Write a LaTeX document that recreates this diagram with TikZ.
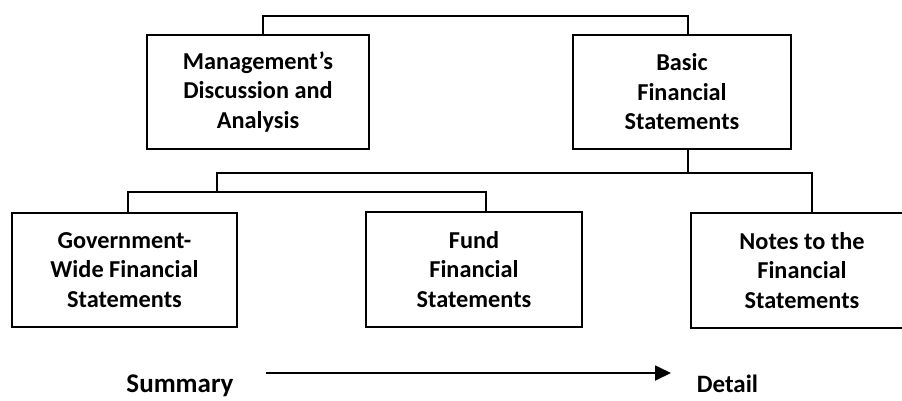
\documentclass[tikz,border=0pt]{standalone}
\usepackage{fontspec}
\setmainfont{Carlito}
\usetikzlibrary{arrows.meta}
\begin{document}
\begin{tikzpicture}[x=1pt,y=-1pt,
  box/.style={draw=black,line width=1.8pt,fill=white,inner sep=0pt,align=center,
    font=\fontsize{24.3}{29.5}\selectfont\bfseries},
  conn/.style={draw=black,line width=1.8pt},
  lbl/.style={anchor=base,inner sep=0pt}]
\useasboundingbox[fill=white] (0,0) rectangle (902,400);
\begin{scope}
\clip (0,0) rectangle (902,400);
% top row
\node[box,minimum width=222pt,minimum height=114pt] (mda) at (258,92) {Management’s\\Discussion and\\Analysis};
\node[box,minimum width=218pt,minimum height=114pt] (basic) at (682,92) {Basic\\Financial\\Statements};
% bottom row
\node[box,minimum width=225pt,minimum height=114pt] (gov) at (124.5,270) {Government-\\Wide Financial\\Statements};
\node[box,minimum width=216pt,minimum height=115pt] (fund) at (474,269.5) {Fund\\Financial\\Statements};
\node[box,minimum width=222pt,minimum height=115pt] (notes) at (802,270.5) {Notes to the\\Financial\\Statements};
% junction coordinates
\coordinate (t1) at (263,16);
\coordinate (t2) at (688,16);
\coordinate (b1) at (688,173);
\coordinate (b2) at (217,173);
\coordinate (b3) at (812,173);
\coordinate (c1) at (217,192);
\coordinate (c2) at (128,192);
\coordinate (c3) at (486,192);
% connectors
\draw[conn] (mda.north -| t1) -- (t1) -- (t2) -- (basic.north -| t2);
\draw[conn] (basic.south -| b1) -- (b1);
\draw[conn] (c1) -- (b2) -- (b3) -- (notes.north -| b3);
\draw[conn] (gov.north -| c2) -- (c2) -- (c3) -- (fund.north -| c3);
% summary -> detail
\node[lbl,font=\fontsize{27}{30}\selectfont\bfseries] (summary) at (180,392) {Summary};
\node[lbl,font=\fontsize{25}{30}\selectfont\bfseries] (detail) at (727.5,392) {Detail};
\coordinate (a1) at (266,373);
\coordinate (a2) at (671,373);
\draw[conn,-{Triangle[length=16pt,width=15pt]}] (a1) -- (a2);
\end{scope}
\end{tikzpicture}
\end{document}
